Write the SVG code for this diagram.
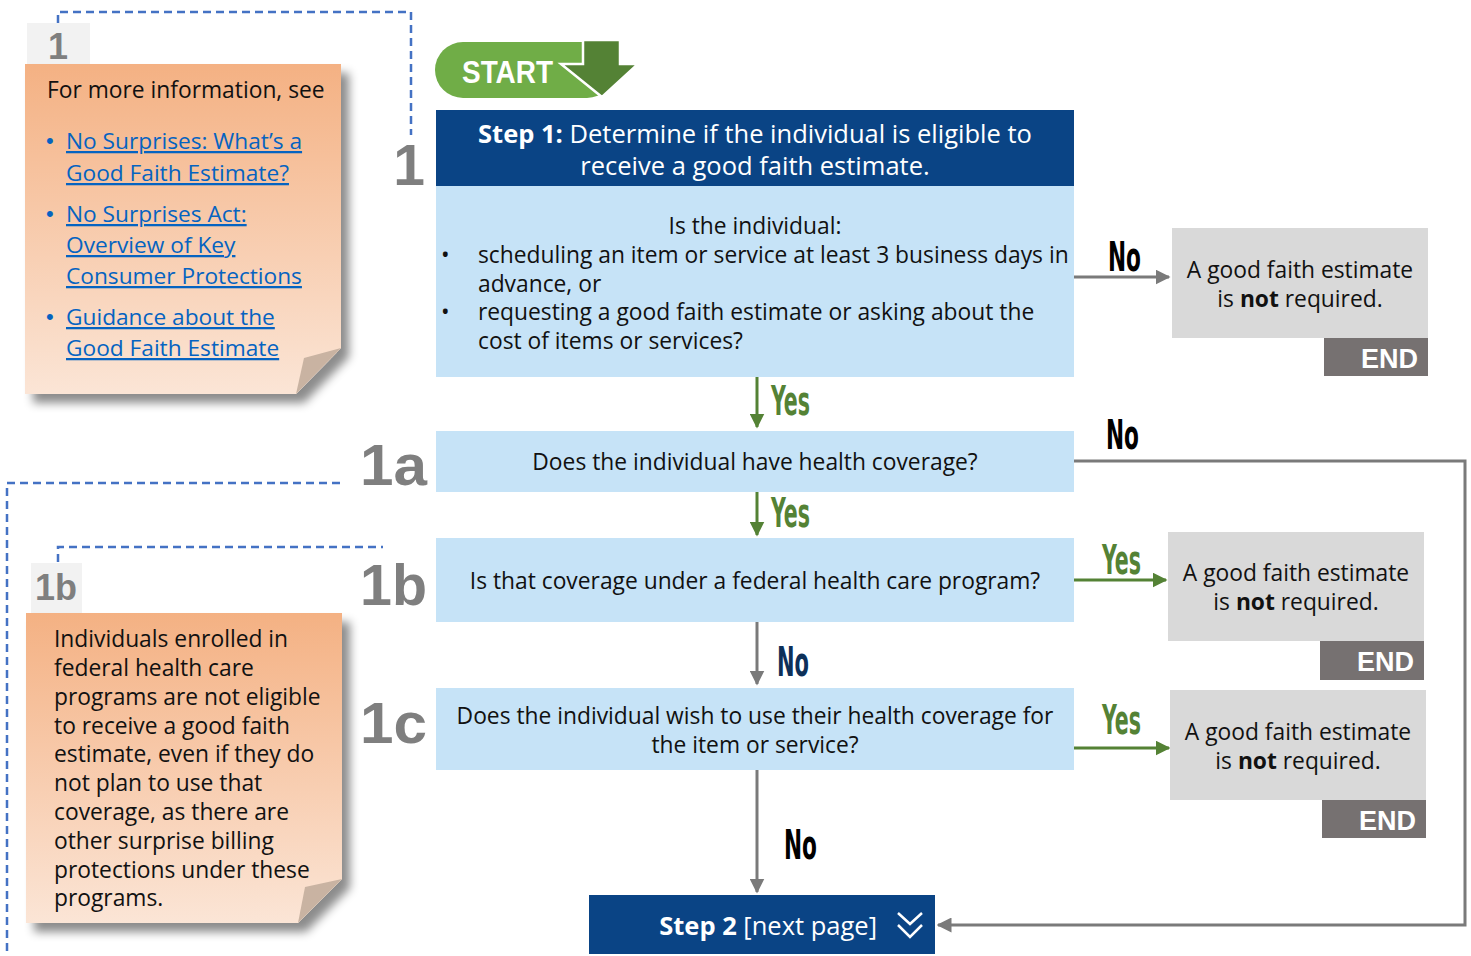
<svg xmlns="http://www.w3.org/2000/svg" width="1471" height="956" viewBox="0 0 1471 956">
<style>
text{font-family:"Liberation Sans",Arial,sans-serif;}
.t{font-family:"Open Sans","Liberation Sans",sans-serif;font-size:22.8px;fill:#111;}
.c{text-anchor:middle;}
.w{font-family:"Open Sans","Liberation Sans",sans-serif;fill:#fff;font-size:25.5px;}
.lnk{font-family:"Open Sans","Liberation Sans",sans-serif;font-size:22.7px;fill:#0563C1;text-decoration:underline;}
.bul{font-size:22px;fill:#0563C1;}
.big{font-size:57px;font-weight:bold;fill:#7F7F7F;text-anchor:end;}
.tab{font-size:36px;font-weight:bold;fill:#7F7F7F;}
.lab{font-family:"Liberation Sans Narrow","DejaVu Sans Condensed",sans-serif;font-weight:bold;font-size:40px;}
.yes{fill:#548235;}
.no{fill:#000;}
.end{fill:#fff;font-size:27px;font-weight:bold;text-anchor:end;}
.dash{fill:none;stroke:#4472C4;stroke-width:2.5;stroke-dasharray:8 5;}
.gl{fill:none;stroke:#7A7A7A;stroke-width:3;}
.gr{fill:none;stroke:#548235;stroke-width:3;}
.hdr{fill:#0A4485;}
.lb{fill:#C6E3F7;}
.gb{fill:#D9D9D9;}
.eb{fill:#767171;}
</style>
<defs>
<linearGradient id="ng" x1="0" y1="0" x2="0" y2="1">
<stop offset="0" stop-color="#F4B183"/>
<stop offset="1" stop-color="#FBE5D6"/>
</linearGradient>
<filter id="sh" x="-10%" y="-10%" width="130%" height="130%">
<feDropShadow dx="8" dy="9" stdDeviation="5" flood-color="#000" flood-opacity="0.45"/>
</filter>
<marker id="ag" viewBox="0 0 10 10" refX="9" refY="5" markerWidth="5" markerHeight="5" orient="auto" markerUnits="strokeWidth">
<path d="M0,0 L10,5 L0,10 z" fill="#7A7A7A"/>
</marker>
<marker id="agr" viewBox="0 0 10 10" refX="9" refY="5" markerWidth="5" markerHeight="5" orient="auto" markerUnits="strokeWidth">
<path d="M0,0 L10,5 L0,10 z" fill="#548235"/>
</marker>
</defs>
<rect width="1471" height="956" fill="#fff"/>

<g id="connectors">
<path class="dash" d="M58,23 V12 H411 V135"/>
<path class="dash" d="M340,483 H7 V956"/>
<path class="dash" d="M58,562 V547 H383"/>
<path class="gr" d="M757,377 V427" marker-end="url(#agr)"/>
<path class="gr" d="M757,492 V535" marker-end="url(#agr)"/>
<path class="gl" d="M757,622 V684" marker-end="url(#ag)"/>
<path class="gl" d="M757,770 V892" marker-end="url(#ag)"/>
<path class="gl" d="M1074,277 H1169" marker-end="url(#ag)"/>
<path class="gr" d="M1074,580 H1166" marker-end="url(#agr)"/>
<path class="gr" d="M1074,748 H1169" marker-end="url(#agr)"/>
<path class="gl" d="M1074,461 H1465 V925 H938" marker-end="url(#ag)"/>
<text class="lab yes" x="771" y="415" textLength="39" lengthAdjust="spacingAndGlyphs">Yes</text>
<text class="lab yes" x="771" y="527" textLength="39" lengthAdjust="spacingAndGlyphs">Yes</text>
<text class="lab" x="777" y="676" fill="#0D3059" textLength="32" lengthAdjust="spacingAndGlyphs">No</text>
<text class="lab no" x="784" y="859" textLength="33" lengthAdjust="spacingAndGlyphs">No</text>
<text class="lab no" x="1108" y="271" textLength="33" lengthAdjust="spacingAndGlyphs">No</text>
<text class="lab no" x="1106" y="449" textLength="33" lengthAdjust="spacingAndGlyphs">No</text>
<text class="lab yes" x="1102" y="574" textLength="39" lengthAdjust="spacingAndGlyphs">Yes</text>
<text class="lab yes" x="1102" y="734" textLength="39" lengthAdjust="spacingAndGlyphs">Yes</text>
</g>

<g id="note1">
<rect x="27" y="23" width="63" height="41" fill="#F2F2F2"/>
<text class="tab" x="58" y="59" text-anchor="middle">1</text>
<polygon points="25,64 341,64 341,348 296,394 25,394" fill="url(#ng)" filter="url(#sh)"/>
<polygon points="341,348 304,358 296,394" fill="#C9B3A2"/>
<text class="t" x="47" y="98">For more information, see</text>
<text class="bul" x="46" y="148">•</text>
<text class="lnk" x="66" y="149">No Surprises: What’s a</text>
<text class="lnk" x="66" y="181">Good Faith Estimate?</text>
<text class="bul" x="46" y="221">•</text>
<text class="lnk" x="66" y="222">No Surprises Act:</text>
<text class="lnk" x="66" y="253">Overview of Key</text>
<text class="lnk" x="66" y="284">Consumer Protections</text>
<text class="bul" x="46" y="324">•</text>
<text class="lnk" x="66" y="325">Guidance about the</text>
<text class="lnk" x="66" y="356">Good Faith Estimate</text>
</g>

<g id="note1b">
<rect x="31" y="563" width="51" height="50" fill="#F2F2F2"/>
<text class="tab" x="56" y="600" text-anchor="middle">1b</text>
<polygon points="26,613 342,613 342,879 298,923 26,923" fill="url(#ng)" filter="url(#sh)"/>
<polygon points="342,879 305,887 298,923" fill="#C9B3A2"/>
<text class="t" x="54" y="647">Individuals enrolled in</text>
<text class="t" x="54" y="676">federal health care</text>
<text class="t" x="54" y="705">programs are not eligible</text>
<text class="t" x="54" y="734">to receive a good faith</text>
<text class="t" x="54" y="762">estimate, even if they do</text>
<text class="t" x="54" y="791">not plan to use that</text>
<text class="t" x="54" y="820">coverage, as there are</text>
<text class="t" x="54" y="849">other surprise billing</text>
<text class="t" x="54" y="878">protections under these</text>
<text class="t" x="54" y="906">programs.</text>
</g>

<g id="labels">
<text class="big" x="425" y="185">1</text>
<text class="big" x="427" y="485" textLength="67" lengthAdjust="spacingAndGlyphs">1a</text>
<text class="big" x="427" y="605" textLength="67" lengthAdjust="spacingAndGlyphs">1b</text>
<text class="big" x="427" y="743" textLength="67" lengthAdjust="spacingAndGlyphs">1c</text>
</g>

<g id="start">
<rect x="435" y="42" width="180" height="56" rx="28" fill="#70AD47"/>
<polygon points="583,40 620,40 620,64 638,64 602,97 561,64 583,64" fill="#548235" stroke="#fff" stroke-width="2.5" stroke-linejoin="miter"/>
<text x="462" y="83" fill="#fff" font-size="32" font-weight="bold" textLength="91" lengthAdjust="spacingAndGlyphs">START</text>
</g>

<g id="step1">
<rect class="hdr" x="436" y="110" width="638" height="76"/>
<text class="w c" x="755" y="143"><tspan font-weight="bold">Step 1:</tspan> Determine if the individual is eligible to</text>
<text class="w c" x="755" y="175">receive a good faith estimate.</text>
<rect class="lb" x="436" y="186" width="638" height="191"/>
<text class="t c" x="755" y="234">Is the individual:</text>
<text class="t" x="441" y="263">•</text>
<text class="t" x="478" y="263">scheduling an item or service at least 3 business days in</text>
<text class="t" x="478" y="292">advance, or</text>
<text class="t" x="441" y="320">•</text>
<text class="t" x="478" y="320">requesting a good faith estimate or asking about the</text>
<text class="t" x="478" y="349">cost of items or services?</text>
</g>

<g id="step1a">
<rect class="lb" x="436" y="431" width="638" height="61"/>
<text class="t c" x="755" y="470">Does the individual have health coverage?</text>
</g>

<g id="step1b">
<rect class="lb" x="436" y="538" width="638" height="84"/>
<text class="t c" x="755" y="589">Is that coverage under a federal health care program?</text>
</g>

<g id="step1c">
<rect class="lb" x="436" y="688" width="638" height="82"/>
<text class="t c" x="755" y="724">Does the individual wish to use their health coverage for</text>
<text class="t c" x="755" y="753">the item or service?</text>
</g>

<g id="end1">
<rect class="gb" x="1172" y="228" width="256" height="110"/>
<text class="t c" x="1300" y="278">A good faith estimate</text>
<text class="t c" x="1300" y="307">is <tspan font-weight="bold">not</tspan> required.</text>
<rect class="eb" x="1324" y="338" width="104" height="38"/>
<text class="end" x="1418" y="368">END</text>
</g>

<g id="end2">
<rect class="gb" x="1168" y="532" width="256" height="109"/>
<text class="t c" x="1296" y="581">A good faith estimate</text>
<text class="t c" x="1296" y="610">is <tspan font-weight="bold">not</tspan> required.</text>
<rect class="eb" x="1320" y="641" width="104" height="39"/>
<text class="end" x="1414" y="671">END</text>
</g>

<g id="end3">
<rect class="gb" x="1170" y="690" width="256" height="110"/>
<text class="t c" x="1298" y="740">A good faith estimate</text>
<text class="t c" x="1298" y="769">is <tspan font-weight="bold">not</tspan> required.</text>
<rect class="eb" x="1322" y="800" width="104" height="38"/>
<text class="end" x="1416" y="830">END</text>
</g>

<g id="step2">
<rect class="hdr" x="589" y="895" width="346" height="59"/>
<text class="w" x="877" y="935" text-anchor="end"><tspan font-weight="bold">Step 2</tspan> [next page]</text>
<path d="M898,913 L910,924 L922,913 M898,925 L910,937 L922,925" fill="none" stroke="#fff" stroke-width="2.5"/>
</g>
</svg>
